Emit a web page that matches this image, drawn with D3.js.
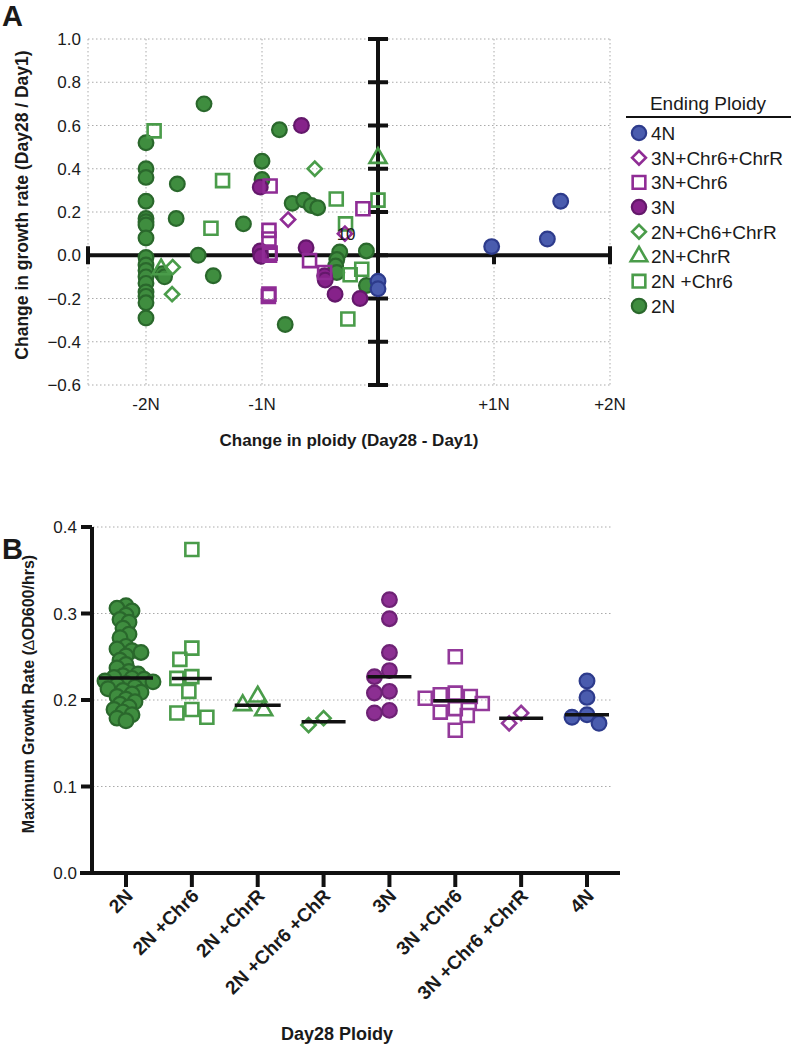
<!DOCTYPE html>
<html>
<head>
<meta charset="utf-8">
<script src="https://cdn.jsdelivr.net/npm/d3@7"></script>
<style>
  body { margin: 0; background: #fff; }
  text { font-family: "Liberation Sans", Arial, Helvetica, sans-serif; fill: #1a1a1a; }
</style>
</head>
<body>
<div id="chart"></div>
<script>
// ---------- panel A data: [change in ploidy (N), change in growth rate] ----------
var a4N = [[0.98, 0.04], [1.46, 0.075], [1.575, 0.25], [0, -0.12], [0, -0.155]];
var a3NChr6ChrR = [[-0.775, 0.165], [-0.285, 0.10]];
var a3NChr6 = [[-0.93, 0.32], [-0.94, 0.115], [-0.94, 0.075], [-0.93, 0.01], [-0.935, 0.0],
  [-0.94, -0.18], [-0.59, -0.025], [-0.13, 0.215], [-0.46, -0.08], [-0.945, -0.19]];
var a3N = [[-0.66, 0.60], [-1.015, 0.315], [-1.015, 0.02], [-1.01, -0.005], [-0.62, 0.035],
  [-0.46, -0.095], [-0.455, -0.115], [-0.37, -0.18], [-0.155, -0.20]];
var a2NCh6ChrR = [[-1.77, -0.055], [-1.775, -0.18], [-0.545, 0.40]];
var a2NChrR = [[0, 0.45], [-1.87, -0.065]];
var a2NChr6 = [[-1.93, 0.575], [-1.34, 0.345], [-1.44, 0.125], [-0.36, 0.26], [0, 0.255],
  [-0.28, 0.145], [-0.14, -0.065], [-0.24, -0.09], [-0.26, -0.295]];
var a2N = [[-2, 0.52], [-2, 0.40], [-2, 0.36], [-2, 0.25], [-2, 0.17], [-2, 0.155], [-2, 0.14],
  [-2, 0.08], [-2, -0.01], [-2, -0.045], [-2, -0.07], [-2, -0.10], [-2, -0.13], [-2, -0.17],
  [-2, -0.19], [-2, -0.22], [-2, -0.29],
  [-1.50, 0.70], [-1.73, 0.33], [-1.74, 0.17], [-1.16, 0.145], [-1.55, 0.0], [-1.86, -0.085],
  [-1.84, -0.10], [-1.42, -0.095], [-0.85, 0.58], [-1.0, 0.435], [-1.0, 0.35], [-0.74, 0.24],
  [-0.64, 0.255], [-0.575, 0.23], [-0.52, 0.22], [-0.33, 0.015], [-0.355, -0.02],
  [-0.365, -0.05], [-0.355, -0.08], [-0.10, 0.02], [-0.10, -0.14], [-0.80, -0.32]];

var xTickVals = [-2, -1, 1, 2];
var xTickLabels = ["-2N", "-1N", "+1N", "+2N"];

// ---------- panel B data: maximum growth rate per Day28 ploidy ----------
var categories = ["2N", "2N +Chr6", "2N +ChrR", "2N +Chr6 +ChR", "3N", "3N +Chr6", "3N +Chr6 +ChrR", "4N"];
var b2N = [0.309, 0.306, 0.303, 0.298, 0.293, 0.290, 0.283, 0.276, 0.272, 0.262, 0.259, 0.257,
  0.255, 0.251, 0.246, 0.241, 0.237, 0.233, 0.230, 0.228, 0.226, 0.225, 0.224, 0.222, 0.221,
  0.219, 0.217, 0.215, 0.213, 0.211, 0.209, 0.207, 0.204, 0.201, 0.198, 0.195, 0.192, 0.189,
  0.186, 0.183, 0.179, 0.176];
var b2NChr6 = [0.374, 0.26, 0.247, 0.227, 0.225, 0.21, 0.189, 0.185, 0.18];
var b2NChrR = [0.204, 0.194, 0.188];
var b2NChr6ChR = [0.179, 0.171];
var b3N = [0.316, 0.294, 0.255, 0.234, 0.227, 0.21, 0.208, 0.188, 0.185];
var b3NChr6 = [0.25, 0.208, 0.206, 0.204, 0.202, 0.196, 0.19, 0.186, 0.182, 0.165];
var b3NChr6ChrR = [0.185, 0.173];
var b4N = [0.222, 0.203, 0.183, 0.18, 0.173];

// colours
var green = "#3f8d3f", greenDark = "#2a682c", greenOpen = "#4a9c4a";
var purple = "#86228a", purpleDark = "#64186b", purpleOpen = "#8f2c95";
var blue = "#4a5cae", blueDark = "#2d3b8c";

var seriesA = [
  {name: "4N", data: a4N, shape: "circle", fill: blue, stroke: blueDark},
  {name: "3N+Chr6+ChrR", data: a3NChr6ChrR, shape: "diamond", fill: "none", stroke: purpleOpen},
  {name: "3N+Chr6", data: a3NChr6, shape: "square", fill: "none", stroke: purpleOpen},
  {name: "3N", data: a3N, shape: "circle", fill: purple, stroke: purpleDark},
  {name: "2N+Ch6+ChrR", data: a2NCh6ChrR, shape: "diamond", fill: "none", stroke: greenOpen},
  {name: "2N+ChrR", data: a2NChrR, shape: "triangle", fill: "none", stroke: greenOpen},
  {name: "2N +Chr6", data: a2NChr6, shape: "square", fill: "none", stroke: greenOpen},
  {name: "2N", data: a2N, shape: "circle", fill: green, stroke: greenDark}
];
var groupsB = [
  {data: b2N, shape: "circle", fill: green, stroke: greenDark, w: 54, gap: 7},
  {data: b2NChr6, shape: "square", fill: "none", stroke: greenOpen, w: 40, gap: 15},
  {data: b2NChrR, shape: "triangle", fill: "none", stroke: greenOpen, w: 46, gap: 15},
  {data: b2NChr6ChR, shape: "diamond", fill: "none", stroke: greenOpen, w: 44, gap: 15},
  {data: b3N, shape: "circle", fill: "#8c2f92", stroke: "#6e2275", w: 44, gap: 15},
  {data: b3NChr6, shape: "square", fill: "none", stroke: "#93399a", w: 44, gap: 13},
  {data: b3NChr6ChrR, shape: "diamond", fill: "none", stroke: "#93399a", w: 44, gap: 15},
  {data: b4N, shape: "circle", fill: blue, stroke: blueDark, w: 44, gap: 13}
];

var svg = d3.select("#chart").append("svg")
  .attr("width", 791)
  .attr("height", 1047);

// marker helper
var symSize = {circle: 170, square: 169, diamond: 100, triangle: 125};
function marker(sel, shape, scale) {
  var type = shape === "circle" ? d3.symbolCircle :
    shape === "triangle" ? d3.symbolTriangle : d3.symbolSquare;
  sel.attr("d", d3.symbol(type, symSize[shape] * (scale || 1)))
    .attr("stroke-width", shape === "circle" ? 2.2 : 2.6);
}
function place(x, y, shape) {
  return "translate(" + x + "," + y + ")" + (shape === "diamond" ? " rotate(45)" : "");
}

// ================= panel A =================
var xA = d3.scaleLinear().domain([-2.5, 2]).range([88, 610]);
var yA = d3.scaleLinear().domain([-0.6, 1.0]).range([385, 39]);
var gA = svg.append("g");

var yTicksA = d3.range(-0.6, 1.001, 0.2).map(function(d) { return Math.round(d * 10) / 10; });

// dotted grid
gA.selectAll(".hgrid").data(yTicksA).enter().append("line")
  .attr("x1", xA(-2.5)).attr("x2", xA(2))
  .attr("y1", d => yA(d)).attr("y2", d => yA(d))
  .attr("stroke", "#aaa").attr("stroke-width", 1).attr("stroke-dasharray", "1.5,2.5");
gA.selectAll(".vgrid").data([-2.5].concat(xTickVals)).enter().append("line")
  .attr("x1", d => xA(d)).attr("x2", d => xA(d))
  .attr("y1", yA(1.0)).attr("y2", yA(-0.6))
  .attr("stroke", "#aaa").attr("stroke-width", 1).attr("stroke-dasharray", "1.5,2.5");

// y tick labels
gA.selectAll(".ylab").data(yTicksA).enter().append("text")
  .attr("x", 81).attr("y", d => yA(d)).attr("dy", "0.36em")
  .attr("text-anchor", "end").attr("font-size", 17)
  .text(d => d3.format(".1f")(d));

// x tick labels
gA.selectAll(".xlab").data(xTickVals).enter().append("text")
  .attr("x", d => xA(d)).attr("y", 410)
  .attr("text-anchor", "middle").attr("font-size", 17)
  .text((d, i) => xTickLabels[i]);

// thick axes through origin
var x0 = xA(0), y0 = yA(0);
var axA = gA.append("g").attr("stroke", "#111").attr("stroke-width", 4);
axA.append("line").attr("x1", x0).attr("x2", x0).attr("y1", yA(1.0)).attr("y2", yA(-0.6));
axA.selectAll(".vt").data(yTicksA).enter().append("line")
  .attr("x1", x0 - 10).attr("x2", x0 + 10)
  .attr("y1", d => yA(d)).attr("y2", d => yA(d));
axA.append("line").attr("x1", xA(-2.5)).attr("x2", xA(2)).attr("y1", y0).attr("y2", y0);
axA.selectAll(".cap").data([-2.5, 2]).enter().append("line")
  .attr("x1", d => xA(d)).attr("x2", d => xA(d))
  .attr("y1", y0 - 9).attr("y2", y0 + 9);
axA.selectAll(".ht").data([-2, -1, 1]).enter().append("line")
  .attr("x1", d => xA(d)).attr("x2", d => xA(d))
  .attr("y1", y0).attr("y2", y0 + 9);

// points, drawn from 2N up to 4N so later series sit on top
seriesA.slice().reverse().forEach(function(s) {
  gA.append("g").selectAll("path").data(s.data).enter().append("path")
    .call(marker, s.shape)
    .attr("transform", d => place(xA(d[0]), yA(d[1]), s.shape))
    .attr("fill", s.fill).attr("stroke", s.stroke);
});

// stray label left in the original figure
gA.append("text")
  .attr("x", xA(-0.275)).attr("y", yA(0.10) + 6)
  .attr("text-anchor", "middle").attr("font-size", 17)
  .text("10");

// axis titles
gA.append("text")
  .attr("transform", "translate(28,205) rotate(-90)")
  .attr("text-anchor", "middle").attr("font-size", 17.5).attr("font-weight", "bold")
  .text("Change in growth rate (Day28 / Day1)");
gA.append("text")
  .attr("x", xA(-0.25)).attr("y", 446)
  .attr("text-anchor", "middle").attr("font-size", 17).attr("font-weight", "bold")
  .text("Change in ploidy (Day28 - Day1)");
svg.append("text").attr("x", 2).attr("y", 26)
  .attr("font-size", 29).attr("font-weight", "bold").text("A");

// legend
var leg = svg.append("g");
leg.append("text").attr("x", 708).attr("y", 110)
  .attr("text-anchor", "middle").attr("font-size", 19).text("Ending Ploidy");
leg.append("line").attr("x1", 626).attr("x2", 791).attr("y1", 117).attr("y2", 117)
  .attr("stroke", "#111").attr("stroke-width", 2);
var rows = leg.selectAll(".row").data(seriesA).enter().append("g")
  .attr("transform", (d, i) => "translate(0," + (133 + i * 24.7) + ")");
rows.append("path")
  .each(function(d) { d3.select(this).call(marker, d.shape, 0.95); })
  .attr("transform", d => place(639, 0, d.shape))
  .attr("fill", d => d.fill).attr("stroke", d => d.stroke);
rows.append("text").attr("x", 651).attr("y", 0).attr("dy", "0.36em")
  .attr("font-size", 19).text(d => d.name);

// ================= panel B =================
var xB = d3.scalePoint().domain(categories).range([126, 587]);
var yB = d3.scaleLinear().domain([0, 0.4]).range([873, 527]);
var gB = svg.append("g");
var yTicksB = [0, 0.1, 0.2, 0.3, 0.4];

gB.selectAll(".hgrid").data(yTicksB.slice(1)).enter().append("line")
  .attr("x1", 93).attr("x2", 612)
  .attr("y1", d => yB(d)).attr("y2", d => yB(d))
  .attr("stroke", "#aaa").attr("stroke-width", 1).attr("stroke-dasharray", "1.5,2.5");

gB.selectAll(".ylab").data(yTicksB).enter().append("text")
  .attr("x", 77).attr("y", d => yB(d)).attr("dy", "0.36em")
  .attr("text-anchor", "end").attr("font-size", 17)
  .text(d => d3.format(".1f")(d));

var axB = gB.append("g").attr("stroke", "#111").attr("stroke-width", 4);
axB.append("line").attr("x1", 92).attr("x2", 92).attr("y1", yB(0.4)).attr("y2", yB(0) + 2);
axB.selectAll(".yt").data(yTicksB).enter().append("line")
  .attr("x1", 81).attr("x2", 92)
  .attr("y1", d => yB(d)).attr("y2", d => yB(d));
axB.append("line").attr("x1", 80).attr("x2", 620).attr("y1", yB(0)).attr("y2", yB(0));
axB.selectAll(".xt").data(categories).enter().append("line")
  .attr("x1", d => xB(d)).attr("x2", d => xB(d))
  .attr("y1", yB(0)).attr("y2", yB(0) + 14);

gB.selectAll(".xlab").data(categories).enter().append("text")
  .attr("transform", d => "translate(" + (xB(d) + 8) + ",897) rotate(-45)")
  .attr("text-anchor", "end").attr("font-size", 19).attr("font-weight", "bold")
  .text(d => d);

// simple beeswarm: spread points sideways until they stop overlapping too much
function swarm(values, cx, minDist, step) {
  var placed = [];
  values.slice().sort((a, b) => b - a).forEach(function(v) {
    var y = yB(v), k = 0, x;
    while (true) {
      x = cx + (k === 0 ? 0 : Math.ceil(k / 2) * step * (k % 2 ? -1 : 1));
      var ok = placed.every(p => Math.hypot(p.x - x, p.y - y) >= minDist);
      if (ok) break;
      k++;
    }
    placed.push({x: x, y: y});
  });
  return placed;
}

groupsB.forEach(function(g, i) {
  var cx = xB(categories[i]);
  var pts = swarm(g.data, cx, g.gap, 3);
  gB.append("g").selectAll("path").data(pts).enter().append("path")
    .call(marker, g.shape)
    .attr("transform", d => place(d.x, d.y, g.shape))
    .attr("fill", g.fill).attr("stroke", g.stroke);
  var med = d3.median(g.data);
  gB.append("line")
    .attr("x1", cx - g.w / 2).attr("x2", cx + g.w / 2)
    .attr("y1", yB(med)).attr("y2", yB(med))
    .attr("stroke", "#111").attr("stroke-width", 3.5);
});

var yTitle = gB.append("text")
  .attr("transform", "translate(34,694) rotate(-90)")
  .attr("text-anchor", "middle").attr("font-size", 16).attr("font-weight", "bold");
yTitle.append("tspan").text("Maximum Growth Rate (");
yTitle.append("tspan").attr("font-weight", "normal").text("\u2206");
yTitle.append("tspan").text("OD600/hrs)");

gB.append("text").attr("x", 337).attr("y", 1040)
  .attr("text-anchor", "middle").attr("font-size", 18).attr("font-weight", "bold")
  .text("Day28 Ploidy");
svg.append("text").attr("x", 2).attr("y", 559)
  .attr("font-size", 29).attr("font-weight", "bold").text("B");
</script>
</body>
</html>
